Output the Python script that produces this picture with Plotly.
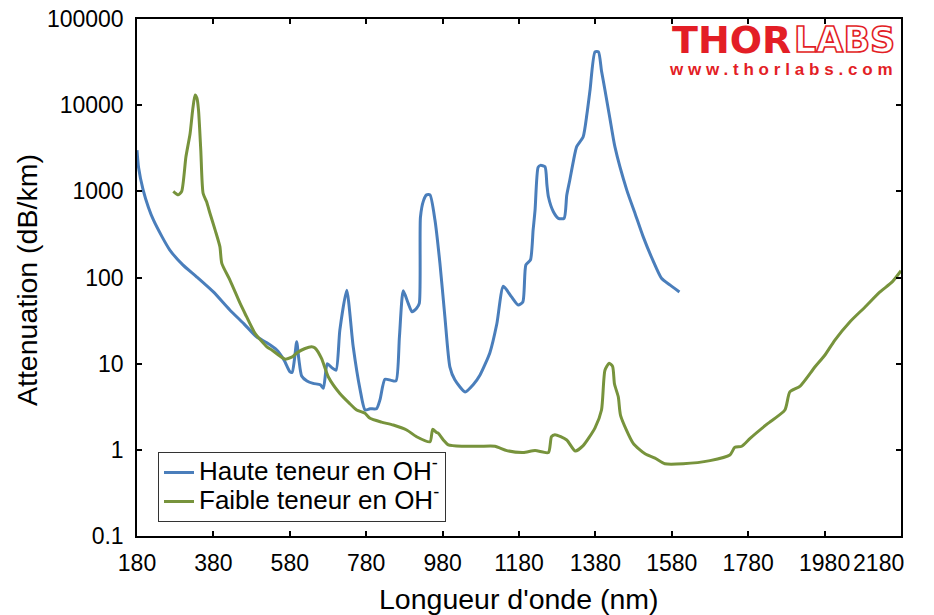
import plotly.graph_objects as go

# ---- data ----
high_oh_wl = [180, 184, 196, 210, 223, 245, 266, 300, 336, 380, 423, 460, 493, 520, 546, 565, 580, 586, 592, 598, 604, 611,
              625, 641, 660, 668, 678, 690, 701, 711, 729, 746, 764, 777, 790, 807, 816, 829, 845, 858, 867, 877, 890, 900,
              912, 919, 922, 930, 938, 947, 960, 973, 986, 999, 1012, 1039, 1060, 1078, 1104, 1122, 1139, 1160, 1178, 1190,
              1198, 1210, 1217, 1222, 1230, 1236, 1248, 1253, 1257, 1270, 1283, 1298, 1305, 1313, 1322, 1331, 1348, 1358,
              1366, 1379, 1388, 1396, 1405, 1418, 1431, 1462, 1484, 1505, 1530, 1553, 1575, 1600]
high_oh_att = [3000, 1900, 1040, 650, 465, 300, 208, 140, 102, 68, 42, 29, 20.5, 17.5, 14.4, 11, 8.1, 7.9, 11, 18, 11, 7.2,
               6.3, 5.9, 5.7, 5.2, 10, 9, 8.4, 24.5, 71, 15.7, 5, 2.9, 3.0, 3.0, 3.8, 6.6, 6.4, 6.3, 20.5, 70, 50, 40,
               44, 50, 500, 780, 910, 910, 464, 146, 35, 9.2, 6.5, 4.7, 5.7, 7.4, 13.5, 29, 79, 60, 48, 52,
               140, 160, 356, 600, 1900, 2000, 1930, 1200, 866, 580, 486, 486, 900, 1355, 2200, 3300, 4300, 8000,
               15000, 41500, 41500, 25000, 15000, 7000, 3300, 1040, 550, 298, 160, 98, 82, 68]

low_oh_wl = [275, 288, 297, 308, 319, 326, 332, 337, 341, 347, 353, 362, 371, 385, 397, 402, 423, 450, 463, 489, 520, 533,
             567, 585, 600, 620, 637, 646, 663, 681, 711, 735, 755, 777, 790, 820, 851, 886, 912, 947, 954, 963, 969, 982,
             995, 1034, 1078, 1117, 1148, 1191, 1222, 1257, 1265, 1274, 1305, 1327, 1348, 1379, 1396, 1405, 1416, 1425,
             1430, 1440, 1446, 1479, 1510, 1536, 1562, 1610, 1680, 1732, 1745, 1763, 1785, 1830, 1876, 1889, 1916, 1955,
             1981, 2007, 2046, 2086, 2125, 2157, 2180]
low_oh_att = [1000, 910, 1000, 2500, 4700, 9000, 13100, 12000, 8800, 3000, 950, 760, 556, 350, 228, 146, 94, 50, 38, 22.5,
              15.7, 14.4, 11.3, 11.9, 13.5, 15, 15.7, 15.2, 11.5, 7, 4.5, 3.5, 2.9, 2.65, 2.32, 2.1, 1.94, 1.7, 1.42, 1.24,
              1.73, 1.6, 1.55, 1.3, 1.14, 1.1, 1.1, 1.1, 0.98, 0.93, 0.98, 0.93, 1.42, 1.5, 1.3, 0.97, 1.12, 1.8, 2.9, 8.4,
              10.1, 9.3, 5.8, 4.1, 2.5, 1.19, 0.9, 0.8, 0.69, 0.69, 0.75, 0.87, 1.07, 1.1, 1.36, 2, 2.9, 4.7, 5.5, 9.2,
              12.6, 18.8, 30.5, 45.5, 68, 89, 120]

x_ticks = [180, 380, 580, 780, 980, 1180, 1380, 1580, 1780, 1980, 2180]
x_tick_labels = ["180", "380", "580", "780", "980", "1180", "1380", "1580", "1780", "1980",
                 "2180" + "\u00a0" * 7]
y_ticks = [0.1, 1, 10, 100, 1000, 10000, 100000]
y_tick_labels = ["0.1", "1", "10", "100", "1000", "10000", "100000"]

series_names = ["<span style='font-size:26px'>Haute teneur en OH<sup>-</sup></span>",
                "<span style='font-size:26px'>Faible teneur en OH<sup>-</sup></span>"]
colors = ["#4A7EBB", "#77933C"]
logo_red = "#E31E26"

FONT = "Liberation Sans, Arial, sans-serif"

fig = go.Figure()
fig.add_trace(go.Scatter(x=high_oh_wl, y=high_oh_att, mode="lines", name=series_names[0],
                         line=dict(color=colors[0], width=3, shape="spline", smoothing=0.6)))
fig.add_trace(go.Scatter(x=low_oh_wl, y=low_oh_att, mode="lines", name=series_names[1],
                         line=dict(color=colors[1], width=3, shape="spline", smoothing=0.6)))

OFF = 8                              # page body margin in the browser
W, H = 934 - OFF, 615 - OFF
PL, PR, PT, PB = 137, 901, 19, 536   # plot box in screenshot pixels
L, R, T, B = PL - OFF, W - (PR - OFF), PT - OFF, H - (PB - OFF)
pw, ph = PR - PL, PB - PT


def px(xp):
    return (xp - PL) / pw


def py(yp):
    return (PB - yp) / ph


fig.update_layout(
    width=W, height=H,
    margin=dict(l=L, r=R, t=T, b=B, pad=0),
    paper_bgcolor="white", plot_bgcolor="white",
    font=dict(family=FONT, size=23, color="black"),
    showlegend=True,
    legend=dict(x=px(158), y=py(522), xanchor="left", yanchor="bottom",
                bgcolor="white", bordercolor="#333333", borderwidth=1,
                font=dict(family=FONT, size=20, color="black"),
                itemwidth=30, tracegroupgap=0),
    xaxis=dict(range=[180, 2180], tickvals=x_ticks, ticktext=x_tick_labels, ticks="inside", ticklen=5,
               tickwidth=1.5, tickcolor="black", showline=True, linecolor="black", linewidth=1.5,
               mirror="ticks", showgrid=False, zeroline=False, ticklabelstandoff=6, automargin=False,
               ticklabeloverflow="allow",
               tickfont=dict(family=FONT, size=23, color="black")),
    yaxis=dict(type="log", range=[-1, 5], tickvals=y_ticks, ticktext=y_tick_labels, ticks="inside",
               ticklen=5, tickwidth=1.5, tickcolor="black", showline=True, linecolor="black", linewidth=1.5,
               mirror="ticks", showgrid=False, zeroline=False, ticklabelstandoff=7, automargin=False,
               ticklabeloverflow="allow",
               tickfont=dict(family=FONT, size=23, color="black")),
)

annotations = [
    dict(text="Longueur d'onde (nm)", xref="paper", yref="paper", x=px(519), y=py(599),
         xanchor="center", yanchor="middle", showarrow=False,
         font=dict(family=FONT, size=28.5, color="black")),
    dict(text="Attenuation (dB/km)", xref="paper", yref="paper", x=px(27), y=py(280),
         xanchor="center", yanchor="middle", textangle=-90, showarrow=False,
         font=dict(family=FONT, size=28.5, color="black")),
    dict(text="THOR", xref="paper", yref="paper", x=px(793), y=py(40), xanchor="right", yanchor="middle",
         showarrow=False, font=dict(family="DejaVu Sans", size=38, color=logo_red, weight="bold")),
    dict(text="<span style='fill:white;stroke:%s;stroke-width:1.6px'>LABS</span>" % logo_red,
         xref="paper", yref="paper", x=px(792), y=py(40), xanchor="left", yanchor="middle",
         showarrow=False, font=dict(family="DejaVu Sans", size=35, color=logo_red, weight="bold")),
    dict(text="<span style='letter-spacing:4.8px'>www.thorlabs.com</span>",
         xref="paper", yref="paper", x=px(667), y=py(70), xanchor="left", yanchor="middle",
         showarrow=False, font=dict(family=FONT, size=17, color=logo_red, weight="bold")),
]
fig.update_layout(annotations=annotations)

fig.write_html("out.html")
